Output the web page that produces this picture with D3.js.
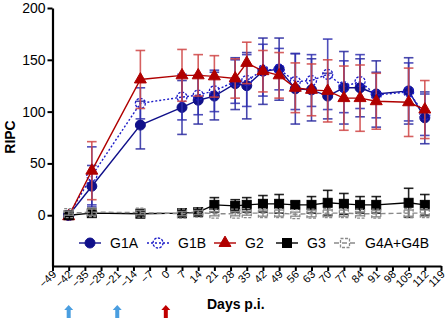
<!DOCTYPE html>
<html>
<head>
<meta charset="utf-8">
<script src="https://cdn.jsdelivr.net/npm/d3@7"></script>
<style>
  body { margin: 0; background: #fff; }
  svg { display: block; font-family: Arial, "Liberation Sans", sans-serif; }
</style>
</head>
<body>
<div id="chart"></div>
<script>
// sampling days (p.i.)
const days = [-42, -32, -11, 7, 14, 21, 30, 35, 42, 49, 56, 63, 70, 77, 84, 91, 105, 112];

const g1a   = [0, 28, 87, 104, 111, 115, 127, 125, 139, 141, 122, 121, 115, 123, 123, 117, 120, 94];
const g1aSd = [2, 20, 23, 26, 23, 23, 25, 32, 32, 30, 34, 30, 22, 35, 28, 32, 32, 25];
const g1b   = [0, 38, 108, 114, 116, 120, 129, 130, 140, 141, 129, 130, 136, 124, 129, 116, 119, 97];
const g1bSd = [2, 28, 15, 22, 19, 20, 21, 25, 25, 20, 27, 25, 34, 25, 26, 22, 28, 20];
const g2    = [-1, 43, 131, 135, 135, 134, 132, 147, 139, 135, 123, 121, 120, 113, 113, 110, 109, 102];
const g2Sd  = [2, 28, 28, 25, 20, 20, 19, 20, 20, 22, 24, 25, 30, 31, 32, 27, 33, 28];
const g3    = [0, 2, 1.5, 2, 3, 10, 9, 10, 11, 11, 10, 10, 12, 11, 10, 10, 12, 10];
const g3Sd  = [2, 3, 2, 3, 3, 7, 6, 7, 8, 9, 3, 8, 12, 10, 8, 8, 14, 10];
const g4    = [2, 3, 2.5, 1.5, 2.5, 1.5, 1.5, 2, 2, 2, 1, 1.5, 2, 2, 1.5, 1.5, 2, 2];
const g4Sd  = [2, 3, 2, 2, 2, 2, 2, 2, 3, 3, 2, 3, 3, 3, 2, 3, 3, 3];

const yTicks = [0, 50, 100, 150, 200];
const xTicks = d3.range(-49, 120, 7);
const arrowDays = [-42, -21, 0];

const W = 447, H = 321;
const svg = d3.select('#chart').append('svg').attr('width', W).attr('height', H);

const x = d3.scaleLinear().domain([-49, 119]).range([52.5, 441]);
const y = d3.scaleLinear().domain([-49, 200]).range([266, 8]);

const series = [
  { name: 'G1A', v: g1a, sd: g1aSd, color: '#10108a', bar: '#2a2aa0', dash: null, shape: 'circle', fill: true },
  { name: 'G1B', v: g1b, sd: g1bSd, color: '#1c1cc8', bar: '#3030b0', dash: '2,2', shape: 'circle', fill: false },
  { name: 'G2', v: g2, sd: g2Sd, color: '#b00000', bar: '#d04545', dash: null, shape: 'triangle', fill: true },
  { name: 'G3', v: g3, sd: g3Sd, color: '#000', bar: '#000', dash: null, shape: 'square', fill: true },
  { name: 'G4A+G4B', v: g4, sd: g4Sd, color: '#8a8a8a', bar: '#8a8a8a', dash: '5,3', shape: 'square', fill: false }
];

function marker(g, s, cx, cy) {
  let m;
  if (s.shape === 'circle') {
    m = g.append('circle').attr('cx', cx).attr('cy', cy).attr('r', 5);
  } else if (s.shape === 'triangle') {
    m = g.append('path').attr('d', d3.symbol(d3.symbolTriangle, 62)()).attr('transform', `translate(${cx},${cy})`);
  } else {
    m = g.append('rect').attr('x', cx - 4.5).attr('y', cy - 4.5).attr('width', 9).attr('height', 9);
  }
  if (s.fill) {
    m.attr('fill', s.color).attr('stroke', s.color).attr('stroke-width', 1);
  } else {
    m.attr('fill', 'none').attr('stroke', s.color).attr('stroke-width', 1.3)
      .attr('stroke-dasharray', s.shape === 'circle' ? '2.4,1.4' : '3,1.5');
  }
}

// axes
const yAxis = svg.append('g')
  .attr('transform', `translate(${x(-49)},0)`)
  .call(d3.axisLeft(y).tickValues(yTicks).tickSize(5).tickSizeOuter(0));
yAxis.select('.domain').attr('stroke-width', 2.2);
yAxis.selectAll('.tick line').attr('stroke-width', 2);
yAxis.selectAll('.tick text').attr('font-size', 14).attr('fill', '#000').attr('x', -7);

const xAxis = svg.append('g')
  .attr('transform', `translate(0,${y(-49)})`)
  .call(d3.axisBottom(x).tickValues(xTicks).tickSize(5).tickSizeOuter(0));
xAxis.select('.domain').attr('stroke-width', 2.2);
xAxis.selectAll('.tick line').attr('stroke-width', 2);
xAxis.selectAll('.tick text')
  .attr('font-size', 11).attr('fill', '#000')
  .attr('text-anchor', 'end').attr('dy', null).attr('y', 0)
  .attr('transform', 'translate(4,9) rotate(-45)');

// data
const line = d3.line().x(d => x(d[0])).y(d => y(d[1]));
const plot = svg.append('g');

series.forEach(s => {
  const g = plot.append('g');
  const pts = days.map((d, i) => [d, s.v[i]]);
  g.append('path').attr('d', line(pts)).attr('fill', 'none')
    .attr('stroke', s.color).attr('stroke-width', 1.4)
    .attr('stroke-dasharray', s.dash);
  days.forEach((d, i) => {
    const cx = x(d), lo = y(s.v[i] - s.sd[i]), hi = y(s.v[i] + s.sd[i]);
    g.append('line').attr('x1', cx).attr('x2', cx).attr('y1', lo).attr('y2', hi)
      .attr('stroke', s.bar).attr('stroke-width', 1.6).attr('opacity', 0.85);
    [lo, hi].forEach(yy => g.append('line')
      .attr('x1', cx - 4.8).attr('x2', cx + 4.8).attr('y1', yy).attr('y2', yy)
      .attr('stroke', s.bar).attr('stroke-width', 1.6).attr('opacity', 0.85));
  });
  days.forEach((d, i) => marker(g, s, x(d), y(s.v[i])));
});

// legend
const legX = [90, 158, 225, 287, 345];
const legY = 243;
series.forEach((s, i) => {
  const g = svg.append('g');
  g.append('line').attr('x1', legX[i] - 11).attr('x2', legX[i] + 11)
    .attr('y1', legY).attr('y2', legY)
    .attr('stroke', s.color).attr('stroke-width', 1.4).attr('stroke-dasharray', s.dash);
  marker(g, s, legX[i], legY);
  g.append('text').attr('x', legX[i] + 20).attr('y', legY + 5)
    .attr('font-size', 14).text(s.name);
});

// axis titles
svg.append('text')
  .attr('transform', 'translate(15,137) rotate(-90)')
  .attr('text-anchor', 'middle').attr('font-size', 14).attr('font-weight', 'bold')
  .text('RIPC');
svg.append('text')
  .attr('x', 207).attr('y', 309)
  .attr('font-size', 14).attr('font-weight', 'bold')
  .text('Days p.i.');

// vaccination / challenge arrows
const arrow = 'M0,0 L4.5,5 L2,5 L2,13 L-2,13 L-2,5 L-4.5,5 Z';
arrowDays.forEach(d => {
  svg.append('path').attr('d', arrow)
    .attr('transform', `translate(${x(d)},305)`)
    .attr('fill', d === 0 ? '#c00000' : '#4a9ee0');
});
</script>
</body>
</html>
